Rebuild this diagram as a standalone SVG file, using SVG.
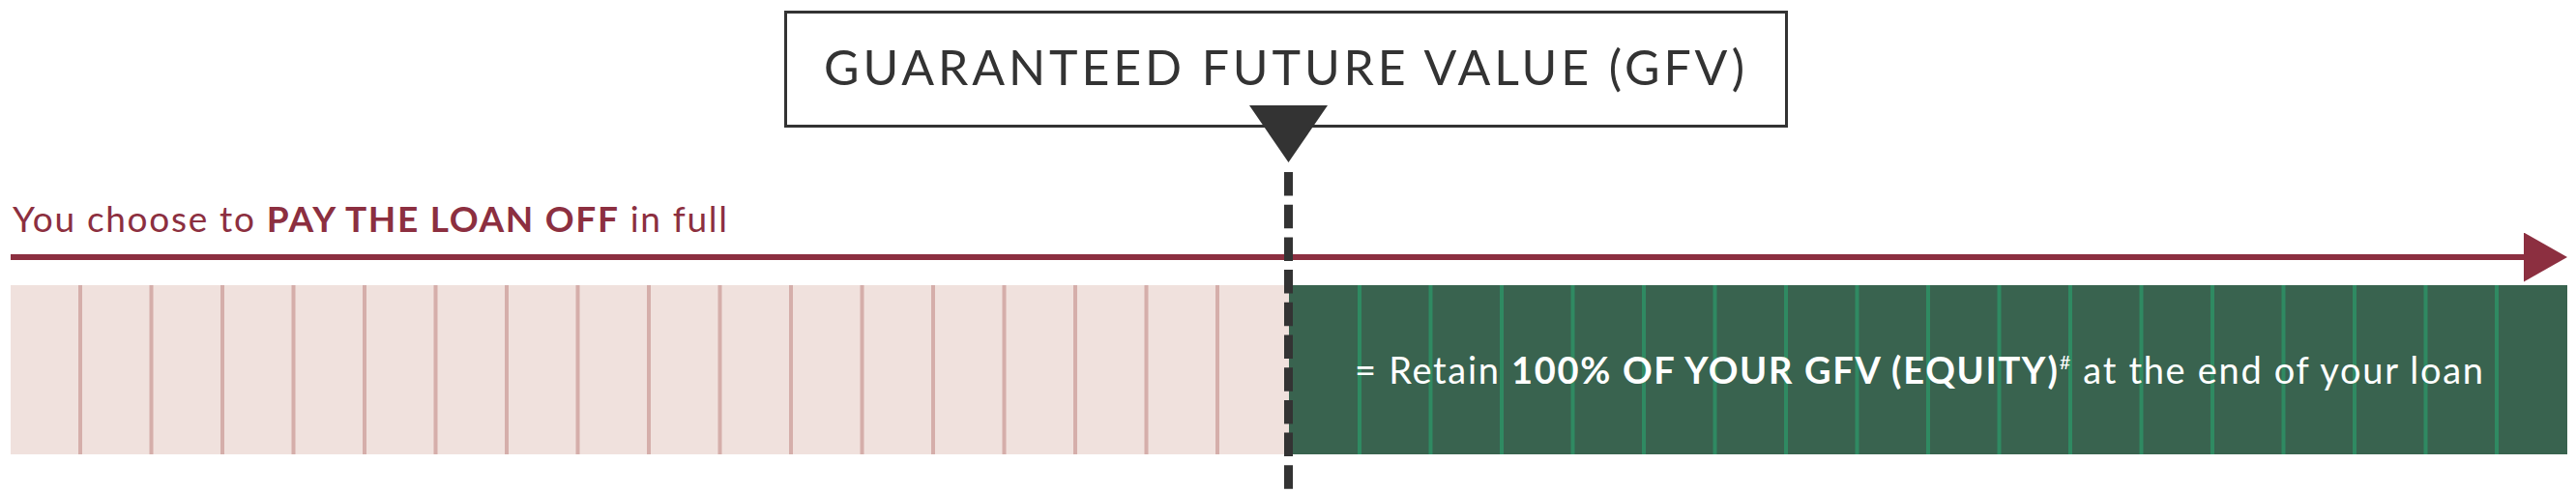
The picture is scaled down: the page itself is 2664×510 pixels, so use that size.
<svg xmlns="http://www.w3.org/2000/svg" width="2664" height="510" viewBox="0 0 2664 510">
  <style>
    .t { font-family: Lato, "Open Sans", "Liberation Sans", sans-serif; }
    .b { font-weight: bold; }
    .pl { stroke: #D5AEAA; stroke-width: 4; }
    .gl { stroke: #2F8A62; stroke-width: 4; }
  </style>
  <defs>
    <marker id="arrowRed" markerUnits="userSpaceOnUse" markerWidth="45" markerHeight="51" viewBox="0 0 45 51" refX="2" refY="25.5" orient="auto">
      <polygon points="0,0 45,25.5 0,51" fill="#8C2F40"/>
    </marker>
  </defs>
  <rect width="2664" height="510" fill="#FFFFFF"/>

  <g id="band-paid">
    <rect x="11" y="295" width="1322" height="175" fill="#F0E1DD"/>
    <g class="pl">
      <line x1="83" y1="295" x2="83" y2="470"/>
      <line x1="156.5" y1="295" x2="156.5" y2="470"/>
      <line x1="230" y1="295" x2="230" y2="470"/>
      <line x1="303.5" y1="295" x2="303.5" y2="470"/>
      <line x1="377" y1="295" x2="377" y2="470"/>
      <line x1="450.5" y1="295" x2="450.5" y2="470"/>
      <line x1="524" y1="295" x2="524" y2="470"/>
      <line x1="597.5" y1="295" x2="597.5" y2="470"/>
      <line x1="671" y1="295" x2="671" y2="470"/>
      <line x1="744.5" y1="295" x2="744.5" y2="470"/>
      <line x1="818" y1="295" x2="818" y2="470"/>
      <line x1="891.5" y1="295" x2="891.5" y2="470"/>
      <line x1="965" y1="295" x2="965" y2="470"/>
      <line x1="1038.5" y1="295" x2="1038.5" y2="470"/>
      <line x1="1112" y1="295" x2="1112" y2="470"/>
      <line x1="1185.5" y1="295" x2="1185.5" y2="470"/>
      <line x1="1259" y1="295" x2="1259" y2="470"/>
    </g>
  </g>

  <g id="band-equity">
    <rect x="1333" y="295" width="1322" height="175" fill="#39634F"/>
    <g class="gl">
      <line x1="1406" y1="295" x2="1406" y2="470"/>
      <line x1="1479.5" y1="295" x2="1479.5" y2="470"/>
      <line x1="1553" y1="295" x2="1553" y2="470"/>
      <line x1="1626.5" y1="295" x2="1626.5" y2="470"/>
      <line x1="1700" y1="295" x2="1700" y2="470"/>
      <line x1="1773.5" y1="295" x2="1773.5" y2="470"/>
      <line x1="1847" y1="295" x2="1847" y2="470"/>
      <line x1="1920.5" y1="295" x2="1920.5" y2="470"/>
      <line x1="1994" y1="295" x2="1994" y2="470"/>
      <line x1="2067.5" y1="295" x2="2067.5" y2="470"/>
      <line x1="2141" y1="295" x2="2141" y2="470"/>
      <line x1="2214.5" y1="295" x2="2214.5" y2="470"/>
      <line x1="2288" y1="295" x2="2288" y2="470"/>
      <line x1="2361.5" y1="295" x2="2361.5" y2="470"/>
      <line x1="2435" y1="295" x2="2435" y2="470"/>
      <line x1="2508.5" y1="295" x2="2508.5" y2="470"/>
      <line x1="2582" y1="295" x2="2582" y2="470"/>
    </g>
    <text class="t" x="1401" y="397" font-size="38" fill="#FFFFFF" textLength="1167" lengthAdjust="spacing">= Retain <tspan class="b">100% OF YOUR GFV (EQUITY)</tspan><tspan font-size="20" dy="-15">#</tspan><tspan dy="15"> at the end of your loan</tspan></text>
  </g>

  <g id="timeline-label">
    <text class="t" x="13" y="240" font-size="37" fill="#8C2F40" textLength="739" lengthAdjust="spacing">You choose to <tspan class="b">PAY THE LOAN OFF</tspan> in full</text>
  </g>

  <g id="gfv-box">
    <rect x="812.5" y="12.5" width="1035" height="118" fill="#FFFFFF" stroke="#333333" stroke-width="3"/>
    <text class="t" x="852" y="88" font-size="50" fill="#333333" textLength="952" lengthAdjust="spacing">GUARANTEED FUTURE VALUE (GFV)</text>
  </g>

  <g id="connectors">
    <line id="timeline-arrow" x1="11" y1="266" x2="2612" y2="266" stroke="#8C2F40" stroke-width="6" marker-end="url(#arrowRed)"/>
    <line id="gfv-marker-line" x1="1332.5" y1="178" x2="1332.5" y2="510" stroke="#333333" stroke-width="9" stroke-dasharray="24.5 9.2"/>
    <polygon id="gfv-pointer" points="1292,109 1373,109 1332.5,168" fill="#333333"/>
  </g>
</svg>
